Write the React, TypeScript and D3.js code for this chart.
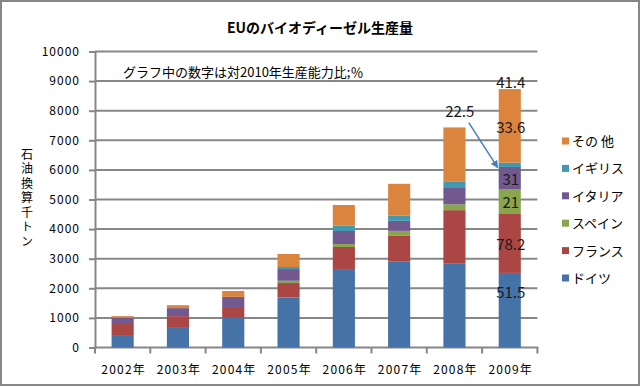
import React, { useRef, useEffect } from "react";
import * as d3 from "d3";

const years = ["2002年", "2003年", "2004年", "2005年", "2006年", "2007年", "2008年", "2009年"];
const seriesNames = ["ドイツ", "フランス", "スペイン", "イタリア", "イギリス", "その 他"];
const colors = ["#4572A7", "#AA4643", "#89A54E", "#71588F", "#4198AF", "#DB843D"];

// 石油換算千トン
const germany = [420, 690, 1030, 1690, 2650, 2900, 2830, 2520];
const france = [375, 370, 340, 490, 745, 870, 1810, 1990];
const spain = [0, 0, 0, 75, 100, 170, 200, 845];
const italy = [210, 270, 340, 395, 440, 340, 575, 745];
const uk = [0, 0, 0, 70, 190, 170, 200, 145];
const other = [55, 100, 200, 440, 690, 1080, 1820, 2485];

// 2009年 対2010年生産能力比(%)
const ratio2009 = ["51.5", "78.2", "21", "31", "22.5", "33.6"];
const ratioTotal = "41.4";

const yTicks = [0, 1000, 2000, 3000, 4000, 5000, 6000, 7000, 8000, 9000, 10000];

const JP = "'Noto Sans CJK JP', 'Noto Sans', sans-serif";

const App = () => {
    const svgRef = useRef<SVGSVGElement>(null);

    useEffect(() => {
        const svg = d3.select(svgRef.current);
        svg.selectAll("*").remove();

        const left = 95, right = 537.4, top = 51.5, bottom = 347.5;

        const x = d3.scaleBand().domain(years).range([left, right]).padding(0);
        const y = d3.scaleLinear().domain([0, 10000]).range([bottom, top]);
        const barW = x.bandwidth() * 0.4;

        const rows = years.map((yr, i) => ({
            year: yr,
            s0: germany[i], s1: france[i], s2: spain[i], s3: italy[i], s4: uk[i], s5: other[i],
        }));
        const keys = ["s0", "s1", "s2", "s3", "s4", "s5"];
        const stacked = d3.stack<any>().keys(keys)(rows);

        // chart border
        svg.append("rect")
            .attr("x", 1).attr("y", 1).attr("width", 638).attr("height", 384)
            .attr("fill", "#fff").attr("stroke", "#878787").attr("stroke-width", 2);

        // title
        svg.append("text")
            .attr("x", 320).attr("y", 33)
            .attr("text-anchor", "middle")
            .style("font-family", JP).style("font-size", "14px").style("font-weight", "bold")
            .text("EUのバイオディーゼル生産量");

        // grid
        svg.append("g").selectAll("line").data(yTicks.slice(1)).enter().append("line")
            .attr("x1", left).attr("x2", right)
            .attr("y1", (d) => y(d)).attr("y2", (d) => y(d))
            .attr("stroke", "#878787").attr("stroke-width", 2);

        // y axis
        const yAxis = d3.axisLeft(y).tickValues(yTicks).tickSize(6).tickPadding(9).tickFormat((d) => String(d));
        const ya = svg.append("g").attr("transform", `translate(${left}, 0)`).call(yAxis);
        ya.select(".domain").attr("stroke", "#878787").attr("stroke-width", 2);
        ya.selectAll(".tick line").attr("stroke", "#878787").attr("stroke-width", 2);
        ya.selectAll(".tick text")
            .attr("fill", "#000")
            .style("font-family", JP).style("font-size", "12px").style("letter-spacing", "1px");

        // x axis
        const xa = svg.append("g").attr("transform", `translate(0, ${bottom})`);
        xa.append("line").attr("x1", left - 1).attr("x2", right + 1)
            .attr("stroke", "#878787").attr("stroke-width", 2);
        xa.selectAll(".xt").data([...years.map((d) => x(d) as number), right]).enter().append("line")
            .attr("x1", (d) => d).attr("x2", (d) => d).attr("y1", 0).attr("y2", 6)
            .attr("stroke", "#878787").attr("stroke-width", 2);
        xa.selectAll(".xl").data(years).enter().append("text")
            .attr("x", (d) => (x(d) as number) + x.bandwidth() / 2 + 1)
            .attr("y", 26)
            .attr("text-anchor", "middle")
            .style("font-family", JP).style("font-size", "12px").style("letter-spacing", "1.2px")
            .text((d) => d);

        // bars
        const bx = (yr: string) => (x(yr) as number) + (x.bandwidth() - barW) / 2;
        svg.append("g").selectAll("g").data(stacked).enter().append("g")
            .attr("fill", (_d, i) => colors[i])
            .selectAll("rect").data((d) => d).enter().append("rect")
            .attr("x", (d: any) => bx(d.data.year))
            .attr("y", (d) => y(d[1]))
            .attr("width", barW)
            .attr("height", (d) => y(d[0]) - y(d[1]));

        // y axis title
        svg.append("text")
            .attr("x", 27).attr("y", 148)
            .style("writing-mode", "vertical-rl")
            .style("text-orientation", "upright")
            .style("font-family", JP).style("font-size", "12px").style("letter-spacing", "2.5px")
            .text("石油換算千トン");

        // note
        svg.append("text")
            .attr("x", 123).attr("y", 77)
            .style("font-family", JP).style("font-size", "13px")
            .text("グラフ中の数字は対2010年生産能力比;％");

        // 2009 labels
        const last = years.length - 1;
        const cx = (x(years[last]) as number) + x.bandwidth() / 2;
        const lab = svg.append("g")
            .style("font-family", JP).style("font-size", "15px").attr("fill", "#1a1a1a");
        stacked.forEach((s, i) => {
            if (i === 4) return;
            const seg = s[last];
            // ドイツ label sits near the top of its segment
            const ly = i === 0 ? y(seg[1]) + 25 : y((seg[0] + seg[1]) / 2) + 7;
            lab.append("text")
                .attr("x", cx + 1)
                .attr("y", ly)
                .attr("text-anchor", "middle")
                .text(ratio2009[i]);
        });
        const total = stacked[5][last][1];
        lab.append("text")
            .attr("x", cx + 1).attr("y", y(total) - 1)
            .attr("text-anchor", "middle")
            .text(ratioTotal);

        // UK label with arrow
        const ukSeg = stacked[4][last];
        const lx = cx - 50;
        lab.append("text")
            .attr("x", lx).attr("y", y(7650) - 4)
            .attr("text-anchor", "middle")
            .text(ratio2009[4]);
        const defs = svg.append("defs");
        defs.append("marker")
            .attr("id", "arr").attr("viewBox", "0 0 10 10")
            .attr("refX", 9).attr("refY", 5)
            .attr("markerWidth", 5).attr("markerHeight", 5)
            .attr("orient", "auto")
            .append("path").attr("d", "M0,0 L10,5 L0,10 z").attr("fill", "#4A7EBB");
        svg.append("line")
            .attr("x1", lx + 9).attr("y1", y(7600))
            .attr("x2", bx(years[last]) - 1).attr("y2", y(ukSeg[0] - 20))
            .attr("stroke", "#4A7EBB").attr("stroke-width", 1.5)
            .attr("marker-end", "url(#arr)");

        // legend
        const leg = svg.append("g");
        const order = [5, 4, 3, 2, 1, 0];
        order.forEach((si, k) => {
            const ly = 141 + k * 27.4;
            leg.append("rect").attr("x", 562).attr("y", ly - 3.5).attr("width", 7).attr("height", 7)
                .attr("fill", colors[si]);
            leg.append("text").attr("x", 572).attr("y", ly + 5)
                .style("font-family", JP).style("font-size", "13px")
                .text(seriesNames[si]);
        });
    }, []);

    return (
        <div>
            <svg ref={svgRef} width={641} height={387} style={{ position: "absolute", left: 0, top: 0, display: "block" }}></svg>
        </div>
    );
};

export default App;
